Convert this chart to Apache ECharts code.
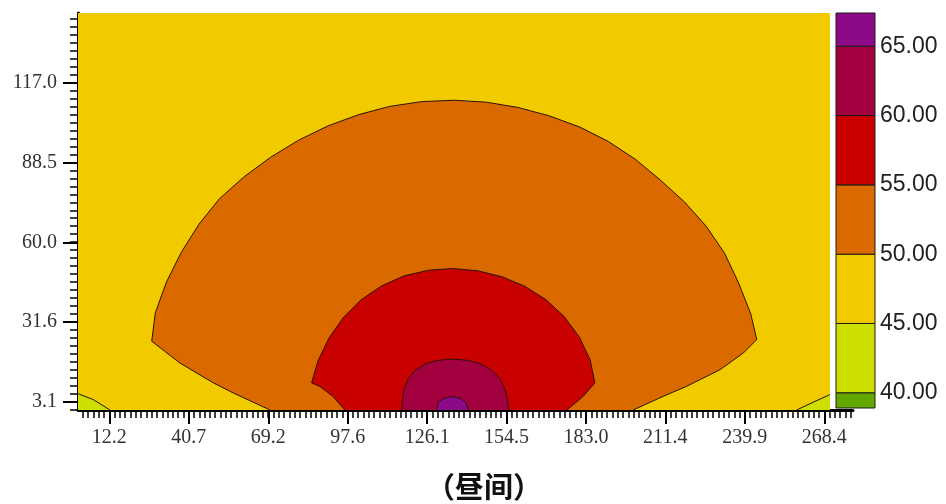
<!DOCTYPE html>
<html>
<head>
<meta charset="utf-8">
<script src="https://cdn.jsdelivr.net/npm/echarts@6/dist/echarts.min.js"></script>
<style>
  html, body { margin: 0; padding: 0; background: #fff; }
  #chart { width: 946px; height: 504px; }
</style>
</head>
<body>
<div id="chart"></div>
<script>
// Day-time noise level contour map, dB(A) bands of 5 dB.

// Axis tick labels
const xTicks = [12.2, 40.7, 69.2, 97.6, 126.1, 154.5, 183.0, 211.4, 239.9, 268.4];
const yTicks = [3.1, 31.6, 60.0, 88.5, 117.0];
const legendTicks = [40, 45, 50, 55, 60, 65];

// Level bands of the colour scale (lower edge of the first, upper edge of the last)
const bandEdges = [38.9, 40, 45, 50, 55, 60, 65, 67.4];
const bandColors = ['#62a800', '#cddf00', '#f2ca00', '#da6a00', '#c80000', '#a2003e', '#8c0a86'];

// Extent of the computed field
const fieldX = [0.99, 270.4];
const fieldY = [0, 142];

// Isolines [x, y]
const iso40West = [[0.99, 5.85], [6.5, 3.7], [12.45, 0]];
const iso40East = [[258.5, 0], [264.0, 2.6], [270.4, 5.5]];
const iso50 = [
  [69.8, 0], [56.6, 6.1], [49.5, 9.7], [37.5, 16.8], [27.4, 24.6],
  [28.7, 34.8], [32.7, 45.8], [38.0, 56.4], [44.3, 66.4], [51.7, 75.6],
  [60.6, 83.5], [70.0, 90.4], [80.0, 96.5], [90.5, 101.6], [101.4, 105.6],
  [112.6, 108.6], [124.1, 110.3], [135.7, 110.8], [147.3, 110.1], [158.7, 108.2],
  [169.9, 105.2], [180.8, 101.2], [191.1, 96.0], [200.8, 89.6], [209.7, 82.2],
  [218.3, 74.4], [226.1, 65.7], [232.7, 56.0], [237.7, 45.4], [242.0, 34.5],
  [244.2, 25.2],
  [239.4, 20.4], [231.0, 14.4], [219.1, 8.5], [210.7, 4.9], [199.9, 0]
];
const iso55 = [
  [96.6, 0], [92.4, 4.8], [87.7, 8.4], [84.7, 9.7],
  [87.0, 17.6], [90.9, 25.7], [96.0, 33.0], [102.4, 39.4], [109.8, 44.4],
  [117.9, 48.0], [126.6, 50.0], [135.4, 50.6], [144.2, 49.8], [152.8, 47.7],
  [161.0, 44.3], [168.6, 39.5], [175.2, 33.4], [180.6, 26.1], [184.5, 17.9],
  [186.2, 9.7],
  [181.9, 4.8], [176.2, 0]
];
const iso60 = [
  [117.0, 0], [117.3, 3.7], [117.8, 7.3], [119.2, 10.9], [121.7, 14.1],
  [125.3, 16.4], [129.6, 17.7], [135.0, 18.2], [140.4, 17.8], [145.0, 16.6],
  [149.0, 14.4], [152.2, 11.2], [154.0, 7.3], [154.9, 3.7], [155.2, 0]
];
const iso65 = [
  [129.5, 0], [130.0, 2.6], [132.1, 4.2], [135.0, 4.8], [137.9, 4.2], [140.0, 2.6], [140.8, 0]
];

// Filled areas in drawing order: [outline, extra closing vertices, band index, draw line]
const regions = [
  [[[fieldX[0], fieldY[0]], [fieldX[0], fieldY[1]], [fieldX[1], fieldY[1]], [fieldX[1], fieldY[0]]], [], 2, false],
  [iso40West, [[fieldX[0], 0]], 1, true],
  [iso40East, [[fieldX[1], 0]], 1, true],
  [iso50, [], 3, true],
  [iso55, [], 4, true],
  [iso60, [], 5, true],
  [iso65, [], 6, true]
];

const chart = echarts.init(document.getElementById('chart'), null, { renderer: 'canvas' });

const xMin = 0.99, xMax = 278.67, yMin = 0, yMax = 142;

function minorTicks(major, lo, hi, parts) {
  const step = (major[major.length - 1] - major[0]) / (major.length - 1) / parts;
  const out = [];
  for (let v = major[0] - step; v >= lo; v -= step) out.push(+v.toFixed(3));
  for (let v = major[0] + step; v <= hi + 1e-6; v += step) out.push(+v.toFixed(3));
  return out;
}
const xMinor = minorTicks(xTicks, xMin, xMax, 15);
const yMinor = minorTicks(yTicks, yMin, yMax, 10);

const serifLabel = { fontFamily: 'Liberation Serif', fontSize: 20, color: '#333' };

function renderRegion(params, api) {
  const r = regions[params.dataIndex];
  const fillPts = r[0].concat(r[1]).map(p => api.coord(p));
  const children = [{
    type: 'polygon',
    shape: { points: fillPts },
    style: { fill: bandColors[r[2]], stroke: null }
  }];
  if (r[3]) {
    children.push({
      type: 'polyline',
      shape: { points: r[0].map(p => api.coord(p)) },
      style: { stroke: '#2a1208', lineWidth: 1, fill: null }
    });
  }
  return { type: 'group', children: children };
}

function renderBand(params, api) {
  const i = params.dataIndex;
  const a = api.coord([0, bandEdges[i]]);
  const b = api.coord([1, bandEdges[i + 1]]);
  return {
    type: 'rect',
    shape: { x: a[0], y: b[1], width: b[0] - a[0], height: a[1] - b[1] },
    style: { fill: bandColors[i], stroke: '#1a1a1a', lineWidth: 1 }
  };
}

chart.setOption({
  animation: false,
  backgroundColor: '#fff',
  grid: [
    { left: 78, top: 13, width: 775, height: 397 },
    { left: 836, top: 13, width: 39, height: 395 }
  ],
  xAxis: [
    {
      gridIndex: 0, type: 'value', min: xMin, max: xMax,
      axisLine: { show: true, onZero: false, lineStyle: { color: '#000', width: 3 } },
      axisTick: { show: true, customValues: xTicks, length: 14, lineStyle: { color: '#000', width: 2 } },
      axisLabel: { show: true, customValues: xTicks, formatter: v => v.toFixed(1), margin: 18, ...serifLabel },
      splitLine: { show: false }
    },
    {
      gridIndex: 0, type: 'value', min: xMin, max: xMax, position: 'bottom',
      axisLine: { show: false },
      axisTick: { show: true, customValues: xMinor, length: 8, lineStyle: { color: '#000', width: 1.5 } },
      axisLabel: { show: false },
      splitLine: { show: false }
    },
    { gridIndex: 1, type: 'value', min: 0, max: 1, show: false }
  ],
  yAxis: [
    {
      gridIndex: 0, type: 'value', min: yMin, max: yMax,
      axisLine: { show: true, onZero: false, lineStyle: { color: '#000', width: 3 } },
      axisTick: { show: true, customValues: yTicks, length: 15, lineStyle: { color: '#000', width: 2 } },
      axisLabel: { show: true, customValues: yTicks, formatter: v => v.toFixed(1), margin: 21, ...serifLabel },
      splitLine: { show: false }
    },
    {
      gridIndex: 0, type: 'value', min: yMin, max: yMax, position: 'left',
      axisLine: { show: false },
      axisTick: { show: true, customValues: yMinor, length: 8, lineStyle: { color: '#000', width: 1.5 } },
      axisLabel: { show: false },
      splitLine: { show: false }
    },
    {
      gridIndex: 1, type: 'value', min: bandEdges[0], max: bandEdges[bandEdges.length - 1], position: 'right',
      axisLine: { show: false },
      axisTick: { show: false },
      axisLabel: {
        show: true, customValues: legendTicks, formatter: v => v.toFixed(2), margin: 5,
        fontFamily: 'Liberation Sans', fontSize: 23, color: '#222'
      },
      splitLine: { show: false }
    }
  ],
  series: [
    {
      type: 'custom', xAxisIndex: 0, yAxisIndex: 0, clip: true,
      renderItem: renderRegion,
      data: regions.map((r, i) => [i, 0]),
      silent: true
    },
    {
      type: 'custom', xAxisIndex: 2, yAxisIndex: 2,
      renderItem: renderBand,
      data: bandColors.map((c, i) => [0, bandEdges[i]]),
      silent: true
    }
  ],
  graphic: [{
    type: 'text', x: 484, y: 487,
    style: {
      text: '（昼间）', textAlign: 'center', textVerticalAlign: 'middle',
      fontFamily: 'Noto Sans CJK SC', fontWeight: 'bold', fontSize: 29, fill: '#111'
    }
  }]
});
</script>
</body>
</html>
